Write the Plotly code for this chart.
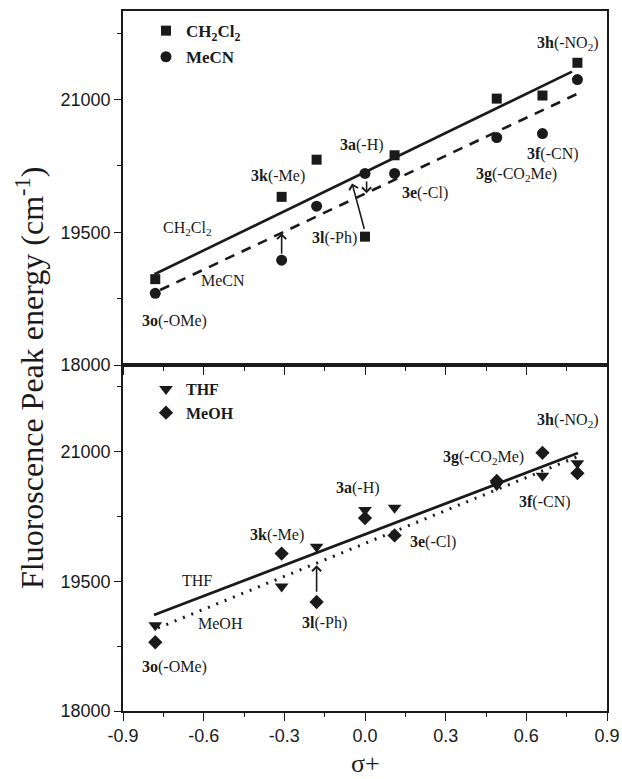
import plotly.graph_objects as go

# ---- data ----
sigma = [-0.78, -0.31, -0.18, 0.0, 0.11, 0.49, 0.66, 0.79]
ch2cl2 = [18970, 19900, 20320, 19450, 20370, 21010, 21045, 21415]
mecn = [18810, 19185, 19795, 20165, 20165, 20570, 20615, 21225]
thf = [18990, 19440, 19900, 20325, 20350, 20610, 20720, 20865]
meoh = [18795, 19820, 19260, 20230, 20030, 20660, 20985, 20750]

fit_x_ch2cl2 = [-0.783, 0.77]
fit_ch2cl2 = [19025, 21315]
fit_x_mecn = [-0.762, 0.796]
fit_mecn = [18847, 21073]
fit_x_thf = [-0.785, 0.792]
fit_thf = [19110, 20983]
fit_x_meoh = [-0.77, 0.79]
fit_meoh = [18960, 20940]

x_ticks = [-0.9, -0.6, -0.3, 0.0, 0.3, 0.6, 0.9]
x_ticklabels = ["-0.9", "-0.6", "-0.3", "0.0", "0.3", "0.6", "0.9"]
y_ticks = [18000, 19500, 21000]
y_ticklabels = ["18000", "19500", "21000"]

# labels: (text, x, y)
top_labels = [
    ("<b>3k</b>(-Me)", -0.324, 20136),
    ("<b>3h</b>(-NO<sub>2</sub>)", 0.755, 21638),
    ("<b>3a</b>(-H)", -0.011, 20486),
    ("<b>3f</b>(-CN)", 0.699, 20384),
    ("<b>3g</b>(-CO<sub>2</sub>Me)", 0.565, 20158),
    ("<b>3e</b>(-Cl)", 0.223, 19944),
    ("<b>3l</b>(-Ph)", -0.115, 19435),
    ("CH<sub>2</sub>Cl<sub>2</sub>", -0.662, 19548),
    ("MeCN", -0.528, 18960),
    ("<b>3o</b>(-OMe)", -0.707, 18497),
]
bottom_labels = [
    ("<b>3h</b>(-NO<sub>2</sub>)", 0.755, 21353),
    ("<b>3g</b>(-CO<sub>2</sub>Me)", 0.439, 20925),
    ("<b>3a</b>(-H)", -0.026, 20578),
    ("<b>3f</b>(-CN)", 0.669, 20416),
    ("<b>3e</b>(-Cl)", 0.253, 19954),
    ("<b>3k</b>(-Me)", -0.327, 20035),
    ("THF", -0.625, 19514),
    ("MeOH", -0.539, 19017),
    ("<b>3l</b>(-Ph)", -0.149, 19017),
    ("<b>3o</b>(-OMe)", -0.707, 18509),
]
# arrows: (tail x, tail y, head x, head y)
top_arrows = [
    (-0.31, 19240, -0.31, 19490),
    (-0.001, 19520, -0.048, 20052),
    (0.006, 20090, 0.006, 19940),
]
bottom_arrows = [
    (-0.18, 19360, -0.18, 19684),
]

SERIF = "Liberation Serif"
SANS = "Liberation Sans"
INK = "#1a1a1a"

fig = go.Figure()

# top panel (x2, y2)
fig.add_trace(go.Scatter(x=fit_x_ch2cl2, y=fit_ch2cl2, mode="lines", xaxis="x2", yaxis="y2",
                         line=dict(color=INK, width=2.6), showlegend=False))
fig.add_trace(go.Scatter(x=fit_x_mecn, y=fit_mecn, mode="lines", xaxis="x2", yaxis="y2",
                         line=dict(color=INK, width=2.6, dash="10px,8px"), showlegend=False))
fig.add_trace(go.Scatter(x=sigma, y=ch2cl2, mode="markers", xaxis="x2", yaxis="y2",
                         name="<b>CH<sub>2</sub>Cl<sub>2</sub></b>", legend="legend", legendgroup="a",
                         marker=dict(symbol="square", size=10, color=INK)))
fig.add_trace(go.Scatter(x=sigma, y=mecn, mode="markers", xaxis="x2", yaxis="y2",
                         name="<b>MeCN</b>", legend="legend", legendgroup="b",
                         marker=dict(symbol="circle", size=11, color=INK)))

# bottom panel (x, y)
fig.add_trace(go.Scatter(x=fit_x_thf, y=fit_thf, mode="lines", xaxis="x", yaxis="y",
                         line=dict(color=INK, width=2.8), showlegend=False))
fig.add_trace(go.Scatter(x=fit_x_meoh, y=fit_meoh, mode="lines", xaxis="x", yaxis="y",
                         line=dict(color=INK, width=3, dash="2px,7px"), showlegend=False))
fig.add_trace(go.Scatter(x=sigma, y=thf, mode="markers", xaxis="x", yaxis="y",
                         name="<b>THF</b>", legend="legend2", legendgroup="c",
                         marker=dict(symbol="triangle-down", size=12, color=INK)))
fig.add_trace(go.Scatter(x=sigma, y=meoh, mode="markers", xaxis="x", yaxis="y",
                         name="<b>MeOH</b>", legend="legend2", legendgroup="d",
                         marker=dict(symbol="diamond", size=11, color=INK)))

annotations = []
for t, x, y in top_labels:
    annotations.append(dict(text=t, x=x, y=y, xref="x2", yref="y2", showarrow=False,
                            font=dict(family=SERIF, size=16, color=INK)))
for t, x, y in bottom_labels:
    annotations.append(dict(text=t, x=x, y=y, xref="x", yref="y", showarrow=False,
                            font=dict(family=SERIF, size=16, color=INK)))
for tx, ty, hx, hy in top_arrows:
    annotations.append(dict(text="", x=hx, y=hy, ax=tx, ay=ty, xref="x2", yref="y2",
                            axref="x2", ayref="y2", showarrow=True, arrowhead=4,
                            arrowsize=1.1, arrowwidth=1.6, arrowcolor=INK,
                            standoff=0, startstandoff=0))
for tx, ty, hx, hy in bottom_arrows:
    annotations.append(dict(text="", x=hx, y=hy, ax=tx, ay=ty, xref="x", yref="y",
                            axref="x", ayref="y", showarrow=True, arrowhead=4,
                            arrowsize=1.1, arrowwidth=1.6, arrowcolor=INK,
                            standoff=0, startstandoff=0))

# shared y-axis title and x-axis title (paper coords relative to plot area)
annotations.append(dict(text="Fluoroscence Peak energy (cm<sup>-1</sup>)", x=(30 - 123) / 484, y=(711 - 378) / 700,
                        xref="paper", yref="paper", textangle=-90, showarrow=False,
                        xanchor="center", yanchor="middle",
                        font=dict(family=SERIF, size=32, color=INK)))
annotations.append(dict(text="σ+", x=(365 - 123) / 484, y=(711 - 764) / 700,
                        xref="paper", yref="paper", showarrow=False,
                        xanchor="center", yanchor="middle",
                        font=dict(family=SERIF, size=26, color=INK)))

split = 346 / 700

axis_common = dict(showline=True, linecolor=INK, linewidth=1.6, mirror=True,
                   showgrid=False, zeroline=False, ticks="outside", tickcolor=INK,
                   tickwidth=1.4, automargin=False)

fig.update_layout(
    width=622, height=779,
    margin=dict(l=123, r=15, t=11, b=68, autoexpand=False),
    paper_bgcolor="white", plot_bgcolor="white",
    showlegend=True,
    xaxis=dict(**axis_common, range=[-0.9, 0.9], domain=[0, 1], anchor="y",
               tickvals=x_ticks, ticktext=x_ticklabels, ticklen=8,
               tickfont=dict(family=SANS, size=18, color=INK),
               minor=dict(dtick=0.15, tick0=-0.9, ticks="outside", ticklen=4, tickcolor=INK, tickwidth=1.4)),
    yaxis=dict(**axis_common, range=[18000, 22000], domain=[0, split], anchor="x",
               tickvals=y_ticks, ticktext=y_ticklabels, ticklen=7,
               tickfont=dict(family=SANS, size=18, color=INK),
               minor=dict(dtick=750, tick0=18000, ticks="outside", ticklen=4, tickcolor=INK, tickwidth=1.4)),
    xaxis2=dict(**axis_common, range=[-0.9, 0.9], domain=[0, 1], anchor="y2", matches="x",
                tickvals=x_ticks, showticklabels=False, ticklen=8,
                minor=dict(dtick=0.15, tick0=-0.9, ticks="outside", ticklen=4, tickcolor=INK, tickwidth=1.4)),
    yaxis2=dict(**axis_common, range=[18000, 22000], domain=[split, 1], anchor="x2",
                tickvals=y_ticks, ticktext=y_ticklabels, ticklen=7,
                tickfont=dict(family=SANS, size=18, color=INK),
                minor=dict(dtick=750, tick0=18000, ticks="outside", ticklen=4, tickcolor=INK, tickwidth=1.4)),
    legend=dict(x=0.0475, y=0.997, xanchor="left", yanchor="top", bgcolor="rgba(0,0,0,0)",
                font=dict(family=SERIF, size=17, color=INK), tracegroupgap=1),
    legend2=dict(x=0.0475, y=(711 - 372) / 700, xanchor="left", yanchor="top", bgcolor="rgba(0,0,0,0)",
                 font=dict(family=SERIF, size=16, color=INK), tracegroupgap=0),
    annotations=annotations,
)

fig.write_html(
    "out.html",
    config={"displayModeBar": False},
    post_script="document.body.style.margin='0';document.body.style.overflow='hidden';",
)
